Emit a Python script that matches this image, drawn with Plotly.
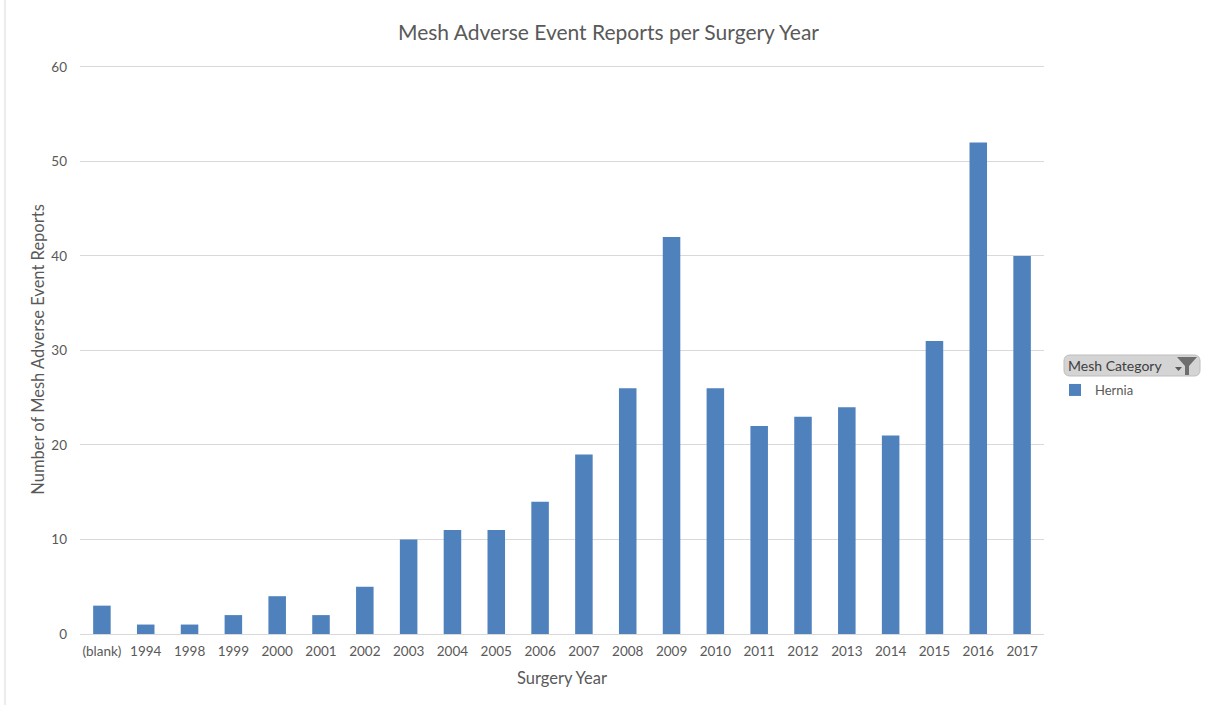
import plotly.graph_objects as go

categories = ["(blank)", "1994", "1998", "1999", "2000", "2001", "2002", "2003", "2004", "2005", "2006",
              "2007", "2008", "2009", "2010", "2011", "2012", "2013", "2014", "2015", "2016", "2017"]
hernia = [3, 1, 1, 2, 4, 2, 5, 10, 11, 11, 14, 19, 26, 42, 26, 22, 23, 24, 21, 31, 52, 40]

FONT = "Lato"
GREY = "#595959"
W, H = 1208, 705
L, R, T, B = 80, 1044, 65, 634


def px(x):
    return (x - L) / (R - L)


def py(y):
    return (B - y) / (B - T)


fig = go.Figure(go.Bar(x=categories, y=hernia, name="Hernia", marker=dict(color="#4f81bd", line=dict(width=0)),
                       showlegend=True))

shapes = [
    dict(type="line", xref="paper", yref="paper", x0=px(5), x1=px(5), y0=py(0), y1=py(705),
         line=dict(color="#d9d9d9", width=1)),
    dict(type="path", xref="paper", yref="paper", layer="above", line=dict(color="#bdbdbd", width=1), fillcolor="#d4d4d4",
         path=f"M {px(1070)} {py(355)} L {px(1194)} {py(355)} Q {px(1200)} {py(355)} {px(1200)} {py(361)} "
              f"L {px(1200)} {py(370)} Q {px(1200)} {py(376)} {px(1194)} {py(376)} "
              f"L {px(1070)} {py(376)} Q {px(1064)} {py(376)} {px(1064)} {py(370)} "
              f"L {px(1064)} {py(361)} Q {px(1064)} {py(355)} {px(1070)} {py(355)} Z"),
    dict(type="path", xref="paper", yref="paper", layer="above", line=dict(width=0), fillcolor="#6e6e6e",
         path=f"M {px(1177)} {py(357)} L {px(1197)} {py(357)} L {px(1189)} {py(366)} L {px(1189)} {py(375)} "
              f"L {px(1185)} {py(375)} L {px(1185)} {py(366)} Z"),
    dict(type="path", xref="paper", yref="paper", layer="above", line=dict(width=0), fillcolor="#595959",
         path=f"M {px(1175)} {py(367)} L {px(1182)} {py(367)} L {px(1178.5)} {py(371)} Z"),
]

fig.update_layout(
    width=W, height=H,
    margin=dict(l=L, r=W - R, t=T, b=H - B, autoexpand=False),
    paper_bgcolor="white", plot_bgcolor="white",
    font=dict(family=FONT, color=GREY, size=13),
    title=dict(text="Mesh Adverse Event Reports per Surgery Year", x=(399 + 818) / 2 / W, xanchor="center",
               y=1 - 33 / H, yanchor="middle", font=dict(size=21, color=GREY, family=FONT)),
    bargap=0.6,
    xaxis=dict(title=dict(text="Surgery Year", font=dict(size=16.5, color=GREY), standoff=14), type="category",
               tickfont=dict(size=13.5, color=GREY), showgrid=False, showline=True, linecolor="#d9d9d9", linewidth=1,
               ticks="", ticklabelstandoff=5),
    yaxis=dict(title=dict(text="Number of Mesh Adverse Event Reports", font=dict(size=16.5, color=GREY), standoff=2),
               range=[0, 60.21], dtick=10, tickfont=dict(size=13.5, color=GREY), gridcolor="#d9d9d9", gridwidth=1,
               zeroline=False, ticks="", ticklabelstandoff=12),
    legend=dict(x=px(1055), y=py(390), xanchor="left", yanchor="middle", bgcolor="rgba(0,0,0,0)",
                font=dict(size=13, color=GREY), itemwidth=30),
    shapes=shapes,
    annotations=[dict(text="Mesh Category", xref="paper", yref="paper", x=px(1066), y=py(365.5), xanchor="left",
                      yanchor="middle", showarrow=False, font=dict(size=14, color="#404040"))],
)

fig.write_html("out.html", post_script="document.body.style.margin='0';", config=dict(displayModeBar=False))
